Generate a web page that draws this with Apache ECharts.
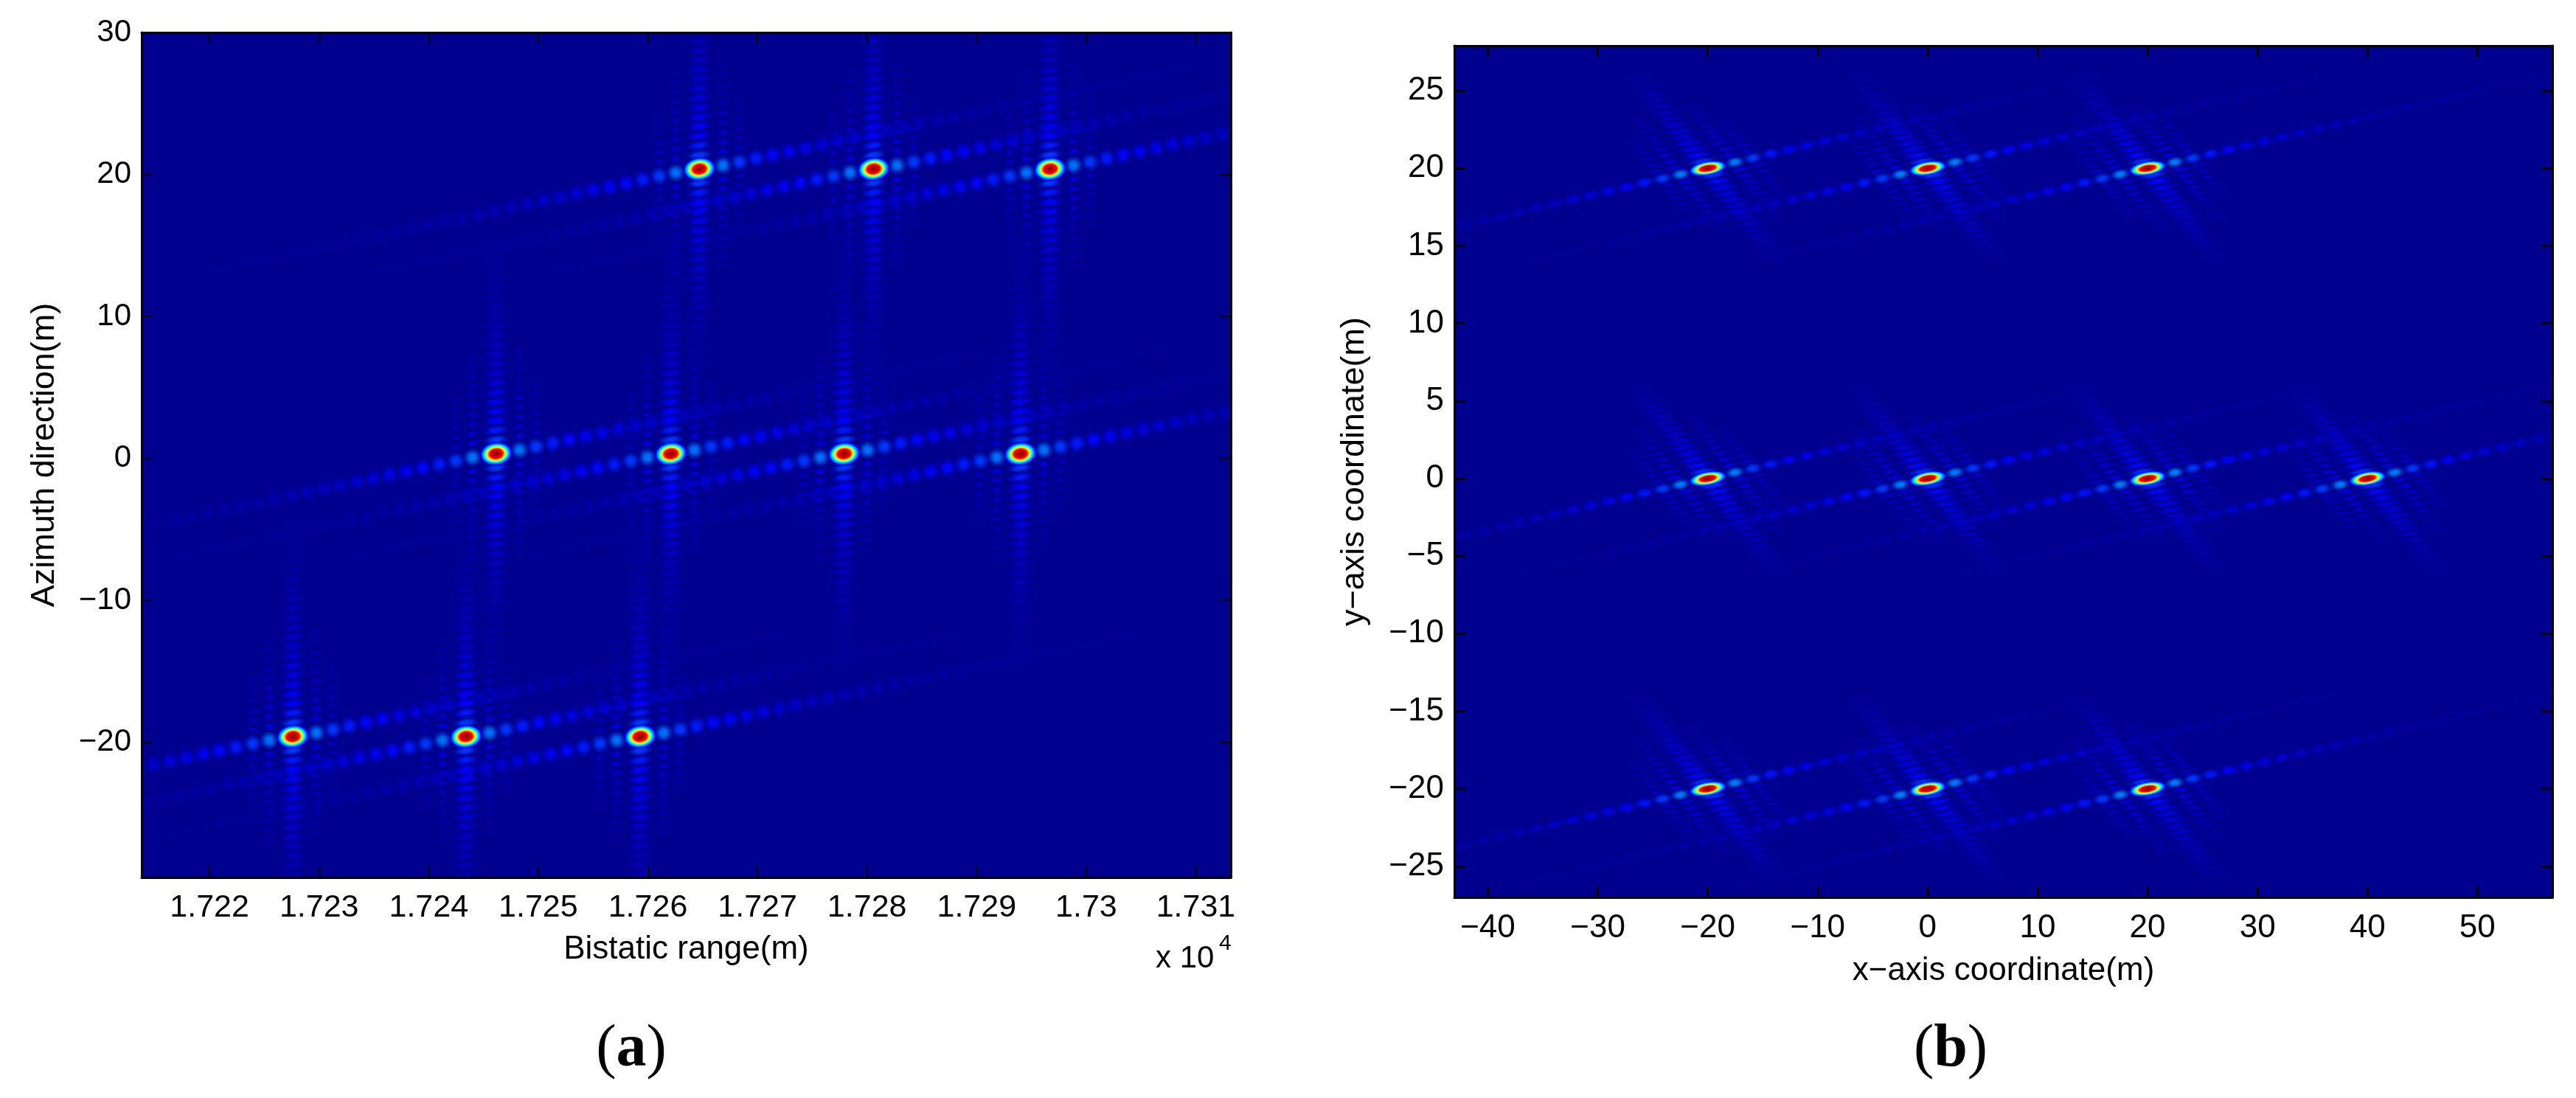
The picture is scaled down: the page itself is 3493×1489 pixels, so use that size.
<!DOCTYPE html>
<html><head><meta charset="utf-8">
<style>html,body{margin:0;padding:0;background:#fff}#c{width:3493px;height:1489px}</style>
<script src="https://cdn.jsdelivr.net/npm/echarts@6/dist/echarts.min.js"></script>
</head><body><div id="c"></div>
<script>
// ---------- values ----------
// Panel (a): axes
const xTicksA = [17220,17230,17240,17250,17260,17270,17280,17290,17300,17310];
const xTickLabelsA = ['1.722','1.723','1.724','1.725','1.726','1.727','1.728','1.729','1.73','1.731'];
const yTicksA = [-20,-10,0,10,20,30];
// Panel (b): axes
const xTicksB = [-40,-30,-20,-10,0,10,20,30,40,50];
const yTicksB = [-25,-20,-15,-10,-5,0,5,10,15,20,25];
// Point targets (x, y)
const targetsA = [[17264.7,20.38],[17280.6,20.38],[17296.7,20.38],[17246.15,0.32],[17262.1,0.32],[17277.9,0.32],[17294.0,0.32],[17227.6,-19.6],[17243.4,-19.6],[17259.3,-19.6]];
const targetsB = [[-20,20],[0,20],[20,20],[-20,0],[0,0],[20,0],[40,0],[-20,-20],[0,-20],[20,-20]];
// Range side-lobes: offset from the target (mirrored either side) and level on the jet scale
const rangeDxA = [2.15,3.66,5.17,6.68,8.19,9.7,11.2,12.7,14.2,15.7,17.2,18.7,20.2,21.7,23.2,24.7,26.2,27.7,29.2,30.7,32.2,33.7,35.2,36.7,38.2,39.7,41.2,42.7,44.2,45.7];
const rangeDyA = [0.26,0.5,0.75,0.99,1.24,1.48,1.73,1.97,2.22,2.46,2.71,2.95,3.2,3.44,3.69,3.93,4.18,4.42,4.67,4.91,5.16,5.4,5.65,5.89,6.14,6.38,6.63,6.87,7.12,7.36];
const rangeVA = [0.24,0.18,0.15,0.13,0.115,0.1,0.085,0.075,0.065,0.055,0.048,0.042,0.036,0.03,0.026,0.022,0.019,0.016,0.014,0.012,0.01,0.008,0.007,0.006,0.005,0.004,0.004,0.003,0.003,0.002];
const rangeDxB = [2.48,4.11,5.74,7.37,9.0,10.63,12.26,13.89,15.52,17.15,18.78,20.41,22.04,23.67,25.3,26.93,28.56,30.19,31.82,33.45,35.08,36.71];
const rangeDyB = [0.39,0.66,0.93,1.2,1.47,1.74,2.01,2.28,2.55,2.82,3.09,3.36,3.63,3.9,4.17,4.44,4.71,4.98,5.25,5.52,5.79,6.06];
const rangeVB = [0.25,0.18,0.145,0.12,0.1,0.085,0.075,0.06,0.05,0.045,0.035,0.03,0.025,0.02,0.016,0.012,0.01,0.008,0.006,0.005,0.004,0.003];
// Azimuth side-lobes (stripes through each target)
const aziDxA = [0,0,0,0,0,0,0,0,0,0,0,0,0,0,0,0,0,0,0,0,0,0];
const aziDyA = [0.99,1.66,2.33,3.0,3.67,4.34,5.01,5.68,6.35,7.02,7.69,8.36,9.03,9.7,10.37,11.04,11.71,12.38,13.05,13.72,14.39,15.06];
const aziVA = [0.18,0.15,0.125,0.115,0.105,0.095,0.085,0.075,0.065,0.06,0.05,0.045,0.04,0.035,0.03,0.025,0.02,0.016,0.013,0.01,0.007,0.005];
const aziDxB = [0.5,0.92,1.34,1.76,2.18,2.6,3.02,3.44,3.86,4.28,4.7,5.12,5.54,5.96,6.38];
const aziDyB = [0.45,0.84,1.23,1.62,2.01,2.4,2.79,3.18,3.57,3.96,4.35,4.74,5.13,5.52,5.91];
const aziVB = [0.17,0.13,0.105,0.09,0.08,0.07,0.06,0.05,0.045,0.04,0.035,0.03,0.02,0.012,0.008];
// Weaker stripes beside the main stripe, at the 1st and 2nd range lobe
const side1VA = [0.09,0.075,0.065,0.055,0.05,0.04,0.035,0.03,0.025,0.02];
const side2VA = [0.05,0.045,0.04,0.03,0.025,0.02];
const side1VB = [0.09,0.08,0.07,0.06,0.05,0.04,0.03,0.025,0.02];
const side2VB = [0.06,0.05,0.04,0.035,0.03,0.02];
// ---------- end of values ----------

const FONT='"Liberation Sans",Arial,sans-serif', BASE='#00008f', MINUS='\u2212';
const JET=[[0,0,0,143],[0.125,0,0,255],[0.375,0,255,255],[0.625,255,255,0],[0.875,255,0,0],[1,128,0,0]];
function jet(v){for(let i=1;i<JET.length;i++){if(v<=JET[i][0]){const a=JET[i-1],b=JET[i],t=(v-a[0])/(b[0]-a[0]);
  return [1,2,3].map(k=>Math.round(a[k]+(b[k]-a[k])*t));}}return [128,0,0];}
const cache={};
function lobeFill(v){const k=v.toFixed(3);if(cache[k])return cache[k];const c=jet(v).join(',');
  return cache[k]=new echarts.graphic.RadialGradient(0.5,0.5,0.5,[
   {offset:0,color:`rgba(${c},1)`},{offset:0.35,color:`rgba(${c},0.85)`},{offset:0.7,color:`rgba(${c},0.3)`},{offset:1,color:`rgba(${c},0)`}]);}
const peakFill=new echarts.graphic.RadialGradient(0.5,0.5,0.5,[
  {offset:0,color:'#800000'},{offset:0.22,color:'#c00000'},{offset:0.38,color:'#ff0000'},{offset:0.47,color:'#ff9000'},{offset:0.54,color:'#ffff00'},
  {offset:0.61,color:'#80ff80'},{offset:0.68,color:'#00ffff'},{offset:0.8,color:'#0080ff'},{offset:0.9,color:'rgba(0,0,255,0.95)'},{offset:1,color:'rgba(0,0,255,0)'}]);

function buildField(targets,rdx,rdy,rv,adx,ady,av,s1,s2){
  const out=[];
  for(const [x,y] of targets){
    rv.forEach((v,i)=>{out.push([x+rdx[i],y+rdy[i],v,1]);out.push([x-rdx[i],y-rdy[i],v,1]);});
    av.forEach((v,i)=>{out.push([x+adx[i],y-ady[i],v,2]);out.push([x-adx[i],y+ady[i],v,2]);});
    [[s1,0],[s2,1]].forEach(([list,r])=>list.forEach((v,i)=>{
      [1,-1].forEach(s=>{[1,-1].forEach(u=>{
        out.push([x+s*rdx[r]+u*adx[i],y+s*rdy[r]-u*ady[i],v,3]);});});
    }));
    out.push([x,y,1,0]);
  }
  return out.sort((p,q)=>p[2]-q[2]);
}
function renderer(sz){return function(params,api){
  const v=api.value(2),kind=api.value(3),p=api.coord([api.value(0),api.value(1)]);
  let rx,ry,fill=lobeFill(v);
  if(kind===0){rx=sz.peakRx;ry=sz.peakRy;fill=peakFill;}
  else if(kind===1){rx=sz.ridgeRx;ry=sz.ridgeRy;}
  else if(kind===2){rx=sz.stripeRx;ry=sz.stripeRy;}
  else{rx=sz.sideRx;ry=sz.sideRy;}
  return {type:'circle',silent:true,x:p[0],y:p[1],scaleX:rx,scaleY:ry,rotation:sz.rot,shape:{cx:0,cy:0,r:1},style:{fill:fill,stroke:null}};
};}
const line={show:true,onZero:false,lineStyle:{color:'#000',width:3}};
function tick(ticks,w){return {show:true,inside:true,length:15,customValues:ticks,lineStyle:{color:'#000',width:w}};}
function bottomX(g,min,max,ticks,fmt,fs,name,gap,tw){return {type:'value',gridIndex:g,position:'bottom',min,max,z:10,splitLine:{show:false},axisLine:line,
  axisTick:tick(ticks,tw),
  axisLabel:{show:true,customValues:ticks,formatter:fmt,margin:20,fontFamily:FONT,fontSize:fs,color:'#000',hideOverlap:false,showMinLabel:true,showMaxLabel:true},
  name,nameLocation:'middle',nameGap:gap,nameTextStyle:{fontFamily:FONT,fontSize:44,color:'#000'}};}
function topX(g,min,max,ticks,tw){return {type:'value',gridIndex:g,position:'top',min,max,z:10,splitLine:{show:false},axisLine:line,
  axisTick:tick(ticks,tw),axisLabel:{show:false}};}
function leftY(g,min,max,ticks,fs,name,gap,tw){return {type:'value',gridIndex:g,position:'left',min,max,z:10,splitLine:{show:false},axisLine:line,
  axisTick:tick(ticks,tw),
  axisLabel:{show:true,customValues:ticks,formatter:v=>String(v).replace('-',MINUS),margin:14,fontFamily:FONT,fontSize:fs,color:'#000',hideOverlap:false},
  name,nameLocation:'middle',nameGap:gap,nameTextStyle:{fontFamily:FONT,fontSize:45,color:'#000'}};}
function rightY(g,min,max,ticks,tw){return {type:'value',gridIndex:g,position:'right',min,max,z:10,splitLine:{show:false},axisLine:line,
  axisTick:tick(ticks,tw),axisLabel:{show:false}};}

const chart=echarts.init(document.getElementById('c'),null,{renderer:'canvas',width:3493,height:1489});
const fieldA=buildField(targetsA,rangeDxA,rangeDyA,rangeVA,aziDxA,aziDyA,aziVA,side1VA,side2VA);
const fieldB=buildField(targetsB,rangeDxB,rangeDyB,rangeVB,aziDxB,aziDyB,aziVB,side1VB,side2VB);
const capRich={p:{fontFamily:'"Liberation Serif"',fontSize:82,fill:'#000',color:'#000'},b:{fontFamily:'"Liberation Serif"',fontWeight:'bold',fontSize:82,fill:'#000',color:'#000'}};
const XRA=[17213.8,17313.2],YRA=[-29.53,30],XRB=[-43.05,56.82],YRB=[-27,27.9];
chart.setOption({
  animation:false,backgroundColor:'#fff',
  grid:[{left:192,top:44,width:1477,height:1146,show:true,backgroundColor:BASE,borderWidth:0},
        {left:1972,top:62,width:1489,height:1155,show:true,backgroundColor:BASE,borderWidth:0}],
  xAxis:[bottomX(0,XRA[0],XRA[1],xTicksA,v=>xTickLabelsA[xTicksA.indexOf(v)]||'',43,'Bistatic range(m)',76,2),
         topX(0,XRA[0],XRA[1],xTicksA,2),
         bottomX(1,XRB[0],XRB[1],xTicksB,v=>String(v).replace('-',MINUS),44,'x\u2212axis coordinate(m)',78,3),
         topX(1,XRB[0],XRB[1],xTicksB,3)],
  yAxis:[leftY(0,YRA[0],YRA[1],yTicksA,42,'Azimuth direction(m)',109,2),rightY(0,YRA[0],YRA[1],yTicksA,2),
         leftY(1,YRB[0],YRB[1],yTicksB,44,'y\u2212axis coordinate(m)',113,3),rightY(1,YRB[0],YRB[1],yTicksB,3)],
  graphic:[
    {type:'text',left:1567,top:1279,style:{text:'x 10',font:'42px "Liberation Sans"',fill:'#000'}},
    {type:'text',left:1653,top:1265,style:{text:'4',font:'30px "Liberation Sans"',fill:'#000'}},
    {type:'text',x:856,y:1424,style:{text:'{p|(}{b|a}{p|)}',rich:capRich,align:'center',verticalAlign:'middle',fill:'#000'}},
    {type:'text',x:2645,y:1424,style:{text:'{p|(}{b|b}{p|)}',rich:capRich,align:'center',verticalAlign:'middle',fill:'#000'}}
  ],
  series:[
    {type:'custom',xAxisIndex:0,yAxisIndex:0,clip:true,silent:true,z:2,data:fieldA,
     renderItem:renderer({peakRx:23,peakRy:16.5,rot:0.14,ridgeRx:13,ridgeRy:13,stripeRx:18,stripeRy:7,sideRx:9,sideRy:5})},
    {type:'custom',xAxisIndex:2,yAxisIndex:2,clip:true,silent:true,z:2,data:fieldB,
     renderItem:renderer({peakRx:27,peakRy:10,rot:0.17,ridgeRx:14,ridgeRy:8,stripeRx:22,stripeRy:5,sideRx:14,sideRy:3.5})}
  ]
});
</script></body></html>
